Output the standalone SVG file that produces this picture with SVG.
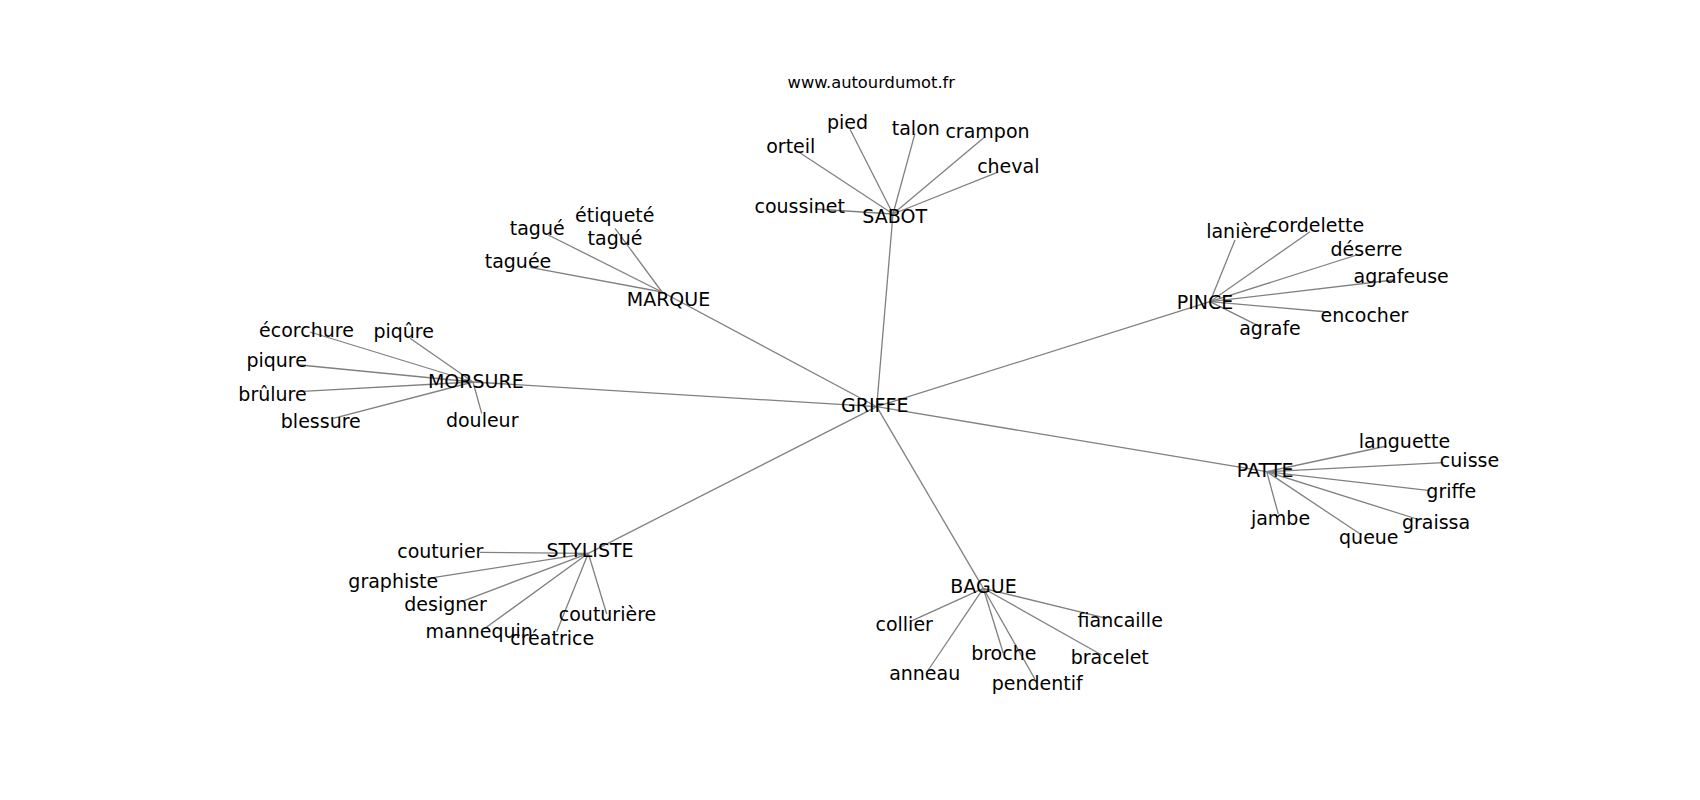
<svg xmlns="http://www.w3.org/2000/svg" width="1700" height="800" viewBox="0 0 1700 800">
<style>
text{font-family:"DejaVu Sans","Liberation Sans",sans-serif;font-size:19px;fill:#000;text-anchor:middle}
.title{font-size:16.3px}
#connectors line{stroke:#808080;stroke-width:1.3}
</style>
<rect width="1700" height="800" fill="#fff"/>
<text class="title" x="871.3" y="88.3">www.autourdumot.fr</text>
<g id="connectors">
<line x1="876.7" y1="406.7" x2="893" y2="214"/>
<line x1="876.7" y1="406.7" x2="662" y2="292"/>
<line x1="876.7" y1="406.7" x2="473" y2="382"/>
<line x1="876.7" y1="406.7" x2="1210" y2="301.7"/>
<line x1="876.7" y1="406.7" x2="1266.7" y2="471.7"/>
<line x1="876.7" y1="406.7" x2="588.3" y2="553.3"/>
<line x1="876.7" y1="406.7" x2="983.3" y2="588.3"/>
<line x1="893" y1="214" x2="798.3" y2="151.7"/>
<line x1="893" y1="214" x2="850" y2="129.3"/>
<line x1="893" y1="214" x2="915" y2="133.3"/>
<line x1="893" y1="214" x2="985" y2="136.7"/>
<line x1="893" y1="214" x2="996.7" y2="172.7"/>
<line x1="893" y1="214" x2="815" y2="209"/>
<line x1="662" y1="292" x2="548.3" y2="235"/>
<line x1="662" y1="292" x2="615" y2="228.3"/>
<line x1="662" y1="292" x2="530" y2="267.3"/>
<line x1="473" y1="382" x2="310" y2="332"/>
<line x1="473" y1="382" x2="410" y2="338.3"/>
<line x1="473" y1="382" x2="300" y2="365"/>
<line x1="473" y1="382" x2="298" y2="391.7"/>
<line x1="473" y1="382" x2="333.3" y2="418.3"/>
<line x1="473" y1="382" x2="481.7" y2="413.3"/>
<line x1="1210" y1="301.7" x2="1235" y2="240"/>
<line x1="1210" y1="301.7" x2="1310" y2="231.7"/>
<line x1="1210" y1="301.7" x2="1356.7" y2="255"/>
<line x1="1210" y1="301.7" x2="1393.3" y2="280"/>
<line x1="1210" y1="301.7" x2="1328" y2="312"/>
<line x1="1210" y1="301.7" x2="1260" y2="326.7"/>
<line x1="1266.7" y1="471.7" x2="1386.7" y2="446"/>
<line x1="1266.7" y1="471.7" x2="1443.3" y2="462.7"/>
<line x1="1266.7" y1="471.7" x2="1430" y2="490.7"/>
<line x1="1266.7" y1="471.7" x2="1420" y2="520"/>
<line x1="1266.7" y1="471.7" x2="1361.7" y2="535"/>
<line x1="1266.7" y1="471.7" x2="1278.3" y2="514"/>
<line x1="588.3" y1="553.3" x2="480" y2="552.3"/>
<line x1="588.3" y1="553.3" x2="428.3" y2="578.3"/>
<line x1="588.3" y1="553.3" x2="461.7" y2="601.7"/>
<line x1="588.3" y1="553.3" x2="485" y2="628.3"/>
<line x1="588.3" y1="553.3" x2="556.7" y2="631.7"/>
<line x1="588.3" y1="553.3" x2="606.7" y2="614"/>
<line x1="983.3" y1="588.3" x2="910" y2="621.7"/>
<line x1="983.3" y1="588.3" x2="928.3" y2="670"/>
<line x1="983.3" y1="588.3" x2="1003.3" y2="653.3"/>
<line x1="983.3" y1="588.3" x2="1035" y2="679.3"/>
<line x1="983.3" y1="588.3" x2="1106.7" y2="618.3"/>
<line x1="983.3" y1="588.3" x2="1101.7" y2="655"/>
</g>
<g id="n-griffe-main"><text x="874.7" y="411.7">GRIFFE</text></g>
<g id="n-sabot"><text x="894.7" y="222.7">SABOT</text></g>
<g id="n-orteil"><text x="790.8" y="152.7">orteil</text></g>
<g id="n-pied"><text x="847.5" y="129">pied</text></g>
<g id="n-talon"><text x="915.8" y="135">talon</text></g>
<g id="n-crampon"><text x="987.5" y="137.7">crampon</text></g>
<g id="n-cheval"><text x="1008.3" y="173.3">cheval</text></g>
<g id="n-coussinet"><text x="799.7" y="212.7">coussinet</text></g>
<g id="n-marque"><text x="668.5" y="305.5">MARQUE</text></g>
<g id="n-tague"><text x="537.2" y="234.5">tagué</text></g>
<g id="n-etiquete-tague"><text x="614.8" y="221.7">étiqueté</text><text x="615" y="245">tagué</text></g>
<g id="n-taguee"><text x="518" y="268">taguée</text></g>
<g id="n-morsure"><text x="475.8" y="388.3">MORSURE</text></g>
<g id="n-ecorchure"><text x="306.5" y="336.5">écorchure</text></g>
<g id="n-piqure-circ"><text x="403.7" y="338.3">piqûre</text></g>
<g id="n-piqure"><text x="276.7" y="367.3">piqure</text></g>
<g id="n-brulure"><text x="272.5" y="400.7">brûlure</text></g>
<g id="n-blessure"><text x="320.8" y="428.3">blessure</text></g>
<g id="n-douleur"><text x="482.2" y="427.3">douleur</text></g>
<g id="n-pince"><text x="1205" y="309">PINCE</text></g>
<g id="n-laniere"><text x="1238.7" y="238.3">lanière</text></g>
<g id="n-cordelette"><text x="1315.7" y="231.7">cordelette</text></g>
<g id="n-deserre"><text x="1366.5" y="255.7">déserre</text></g>
<g id="n-agrafeuse"><text x="1401.2" y="283">agrafeuse</text></g>
<g id="n-encocher"><text x="1364.5" y="321.7">encocher</text></g>
<g id="n-agrafe"><text x="1270" y="335">agrafe</text></g>
<g id="n-patte"><text x="1265.2" y="477.3">PATTE</text></g>
<g id="n-languette"><text x="1404.5" y="448.3">languette</text></g>
<g id="n-cuisse"><text x="1469.5" y="466.7">cuisse</text></g>
<g id="n-griffe"><text x="1451.3" y="498.3">griffe</text></g>
<g id="n-graissa"><text x="1436" y="529.3">graissa</text></g>
<g id="n-queue"><text x="1368.8" y="544">queue</text></g>
<g id="n-jambe"><text x="1280.5" y="525">jambe</text></g>
<g id="n-styliste"><text x="590" y="556.7">STYLISTE</text></g>
<g id="n-couturier"><text x="440.3" y="558.3">couturier</text></g>
<g id="n-graphiste"><text x="393.3" y="587.7">graphiste</text></g>
<g id="n-designer"><text x="445.5" y="610.7">designer</text></g>
<g id="n-mannequin"><text x="479.2" y="638.3">mannequin</text></g>
<g id="n-creatrice"><text x="552.2" y="645">créatrice</text></g>
<g id="n-couturiere"><text x="607.5" y="620.7">couturière</text></g>
<g id="n-bague"><text x="983.5" y="593.3">BAGUE</text></g>
<g id="n-collier"><text x="904.2" y="631">collier</text></g>
<g id="n-anneau"><text x="924.7" y="680">anneau</text></g>
<g id="n-broche"><text x="1003.8" y="660">broche</text></g>
<g id="n-pendentif"><text x="1037.2" y="690">pendentif</text></g>
<g id="n-fiancaille"><text x="1120.2" y="627.3">fiancaille</text></g>
<g id="n-bracelet"><text x="1109.8" y="664">bracelet</text></g>
</svg>
